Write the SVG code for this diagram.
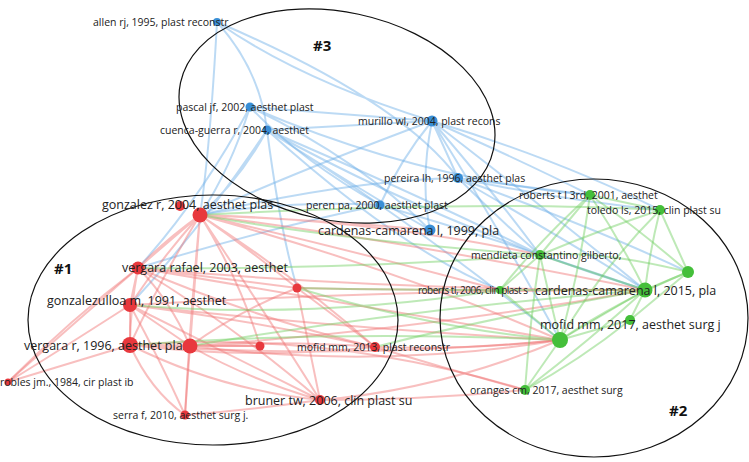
<svg xmlns="http://www.w3.org/2000/svg" width="749" height="462" viewBox="0 0 749 462">
<style>
text{font-family:"Open Sans","DejaVu Sans",sans-serif;font-size:10.5px;fill:#222}
.big{font-size:12.5px}
.sm{font-size:10px}
.hd{font-size:15px;font-weight:bold;fill:#111}
.r{stroke:#f07070;stroke-opacity:.45;fill:none}
.g{stroke:#6fcf5f;stroke-opacity:.45;fill:none}
.b{stroke:#6aaee6;stroke-opacity:.45;fill:none}
.e{fill:none;stroke:#111;stroke-width:1.2}
.nr{fill:#e8383d}.ng{fill:#44bf3a}.nb{fill:#3a8fd6}
</style>
<rect width="749" height="462" fill="#fff"/>
<g id="connectors" stroke-width="2">
<path class="b" d="M217,22 Q260,70 267,130 M217,22 Q300,80 432,121 M217,22 Q210,150 200,215 M217,22 Q400,100 458,178"/>
<path class="b" d="M250,107 L432,121 M250,107 Q300,160 380,205 M250,107 Q360,160 430,230 M250,107 Q230,170 200,215 M250,107 Q200,200 138,268 M250,107 Q420,180 590,195"/>
<path class="b" d="M267,130 L432,121 M267,130 Q330,170 380,205 M267,130 Q360,190 430,230 M267,130 Q240,180 200,215 M267,130 Q200,230 130,305 M267,130 Q430,200 540,255 M267,130 Q450,230 645,290 M267,130 Q400,250 500,290 M267,130 Q280,230 297,288"/>
<path class="b" d="M432,121 L458,178 M432,121 Q420,180 430,230 M432,121 Q400,160 380,205 M432,121 Q520,160 590,195 M432,121 Q560,160 660,210 M432,121 Q500,200 540,255 M432,121 Q560,220 645,290 M432,121 Q300,170 200,215 M432,121 Q500,230 560,340"/>
<path class="b" d="M458,178 Q560,200 660,210 M458,178 L590,195 M458,178 Q600,230 688,272 M458,178 Q350,180 200,215 M458,178 Q500,220 540,255 M458,178 Q600,260 645,290"/>
<path class="b" d="M380,205 Q290,200 200,215 M380,205 Q260,230 138,268 M380,205 Q460,260 560,340 M380,205 Q500,240 645,290"/>
<path class="r" d="M200,215 Q165,240 138,268 M200,215 Q160,260 130,305 M200,215 Q160,280 130,345 M200,215 Q195,280 190,346 M200,215 Q240,280 260,346 M200,215 Q250,250 297,288 M200,215 Q300,280 375,347 M200,215 Q270,320 320,400 M200,215 Q190,320 185,415 M200,215 Q100,300 8,382 M200,215 Q320,220 430,230 M200,215 Q400,240 645,290 M200,215 Q400,270 560,340 M200,215 Q350,250 500,290 M200,215 Q380,220 540,255"/>
<path class="r" d="M138,268 L130,305 M138,268 Q130,310 130,345 M138,268 Q170,300 190,346 M138,268 L297,288 M138,268 Q260,320 375,347 M138,268 Q240,330 320,400 M138,268 Q380,290 645,290 M138,268 Q330,300 560,340 M138,268 Q70,320 8,382"/>
<path class="r" d="M130,305 L130,345 M130,305 L190,346 M130,305 Q250,320 375,347 M130,305 Q220,350 320,400 M130,305 Q160,360 185,415 M130,305 Q360,330 560,340 M130,305 Q400,290 645,290 M130,305 Q60,350 8,382"/>
<path class="r" d="M130,345 L190,346 M130,345 L260,346 M130,345 Q250,360 375,347 M130,345 Q220,390 320,400 M130,345 Q150,390 185,415 M130,345 L8,382 M130,345 Q350,360 560,340 M130,345 Q330,330 525,390"/>
<path class="r" d="M190,346 L260,346 M190,346 Q280,340 375,347 M190,346 Q250,380 320,400 M190,346 L185,415 M190,346 Q240,310 297,288 M190,346 Q380,370 560,340 M190,346 Q420,330 645,290"/>
<path class="r" d="M297,288 Q340,320 375,347 M297,288 L320,400 M297,288 Q400,290 500,290 M375,347 Q470,350 560,340 M375,347 Q450,370 525,390 M320,400 Q440,390 560,340 M320,400 Q420,400 525,390 M185,415 Q250,410 320,400"/>
<path class="g" d="M590,195 L660,210 M590,195 Q565,225 540,255 M590,195 Q620,240 645,290 M590,195 Q640,230 688,272 M590,195 Q580,270 560,340 M590,195 Q540,240 500,290"/>
<path class="g" d="M660,210 L688,272 M660,210 Q650,250 645,290 M660,210 Q600,270 560,340 M660,210 Q600,230 540,255 M660,210 Q480,200 200,215"/>
<path class="g" d="M540,255 L645,290 M540,255 Q550,300 560,340 M540,255 L500,290 M540,255 Q530,320 525,390 M540,255 Q600,250 688,272 M540,255 Q340,240 200,215 M540,255 Q340,270 138,268"/>
<path class="g" d="M645,290 L688,272 M645,290 L560,340 M645,290 L630,320 M645,290 Q590,340 525,390 M645,290 L500,290 M645,290 Q400,310 190,346 M645,290 Q480,320 375,347"/>
<path class="g" d="M560,340 L630,320 M560,340 L525,390 M560,340 L500,290 M560,340 Q620,300 688,272 M560,340 Q340,330 130,345 M560,340 Q440,330 297,288 M630,320 L688,272 M630,320 Q580,360 525,390 M500,290 Q400,290 297,288 M500,290 Q310,320 130,305"/>
</g>
<g id="ellipses">
<ellipse class="e" cx="337" cy="116" rx="160" ry="104" transform="rotate(12 337 116)"/>
<ellipse class="e" cx="213" cy="320" rx="185" ry="125"/>
<ellipse class="e" cx="594" cy="318" rx="154" ry="139"/>
</g>
<g id="nodes">
<g id="n-allen"><circle class="nb" cx="217" cy="22" r="4"/><text x="93" y="26">allen rj, 1995, plast reconstr</text></g>
<g id="n-pascal"><circle class="nb" cx="250" cy="107" r="4.5"/><text x="176" y="111">pascal jf, 2002, aesthet plast</text></g>
<g id="n-cuenca"><circle class="nb" cx="267" cy="130" r="4.5"/><text x="160" y="134">cuenca-guerra r, 2004, aesthet</text></g>
<g id="n-murillo"><circle class="nb" cx="432" cy="121" r="5.5"/><text x="358" y="125">murillo wl, 2004, plast recons</text></g>
<g id="n-pereira"><circle class="nb" cx="458" cy="178" r="5"/><text x="384" y="182">pereira lh, 1996, aesthet plas</text></g>
<g id="n-peren"><circle class="nb" cx="380" cy="205" r="4.5"/><text x="306" y="209">peren pa, 2000, aesthet plast</text></g>
<g id="n-card99"><circle class="nb" cx="430" cy="230" r="5.5"/><text class="big" x="318" y="235">cardenas-camarena l, 1999, pla</text></g>
<g id="n-gonz"><circle class="nr" cx="200" cy="215" r="7.5"/><circle class="nr" cx="180" cy="206" r="5"/><text class="big" x="102" y="209">gonzalez r, 2004, aesthet plas</text></g>
<g id="n-verg03"><circle class="nr" cx="138" cy="268" r="6.5"/><text class="big" x="122" y="272">vergara rafael, 2003, aesthet</text></g>
<g id="n-gulloa"><circle class="nr" cx="130" cy="305" r="7"/><text class="big" x="47" y="305">gonzalezulloa m, 1991, aesthet</text></g>
<g id="n-verg96"><circle class="nr" cx="130" cy="345" r="8"/><text class="big" x="24" y="350">vergara r, 1996, aesthet plast</text></g>
<g id="n-r1"><circle class="nr" cx="190" cy="346" r="7.5"/></g>
<g id="n-r2"><circle class="nr" cx="260" cy="346" r="4.5"/></g>
<g id="n-r3"><circle class="nr" cx="297" cy="288" r="4.5"/></g>
<g id="n-mofid13"><circle class="nr" cx="375" cy="347" r="5"/><text x="297" y="351">mofid mm, 2013, plast reconstr</text></g>
<g id="n-bruner"><circle class="nr" cx="320" cy="400" r="5"/><text class="big" x="245" y="405">bruner tw, 2006, clin plast su</text></g>
<g id="n-serra"><circle class="nr" cx="185" cy="415" r="4.5"/><text x="113" y="419">serra f, 2010, aesthet surg j.</text></g>
<g id="n-robles"><circle class="nr" cx="8" cy="382" r="3.5"/><text x="0" y="386">robles jm., 1984, cir plast ib</text></g>
<g id="n-rob01"><circle class="ng" cx="590" cy="195" r="5"/><text x="519" y="199">roberts t l 3rd, 2001, aesthet</text></g>
<g id="n-toledo"><circle class="ng" cx="660" cy="210" r="5"/><text x="587" y="214">toledo ls, 2015, clin plast su</text></g>
<g id="n-mend"><circle class="ng" cx="540" cy="255" r="5"/><text x="471" y="259">mendieta constantino gilberto,</text></g>
<g id="n-card15"><circle class="ng" cx="645" cy="290" r="7.5"/><circle class="ng" cx="688" cy="272" r="6"/><text class="big" x="535" y="295">cardenas-camarena l, 2015, pla</text></g>
<g id="n-rob06"><circle class="ng" cx="500" cy="290" r="4"/><text class="sm" x="418" y="294" textLength="110">roberts tl, 2006, clin plast s</text></g>
<g id="n-mofid17"><circle class="ng" cx="560" cy="340" r="8"/><circle class="ng" cx="630" cy="320" r="5"/><text class="big" x="540" y="329">mofid mm, 2017, aesthet surg j</text></g>
<g id="n-oranges"><circle class="ng" cx="525" cy="390" r="5"/><text x="470" y="394">oranges cm, 2017, aesthet surg</text></g>
</g>
<g id="labels">
<text class="hd" x="313" y="51">#3</text>
<text class="hd" x="54" y="274">#1</text>
<text class="hd" x="669" y="416">#2</text>
</g>
</svg>
